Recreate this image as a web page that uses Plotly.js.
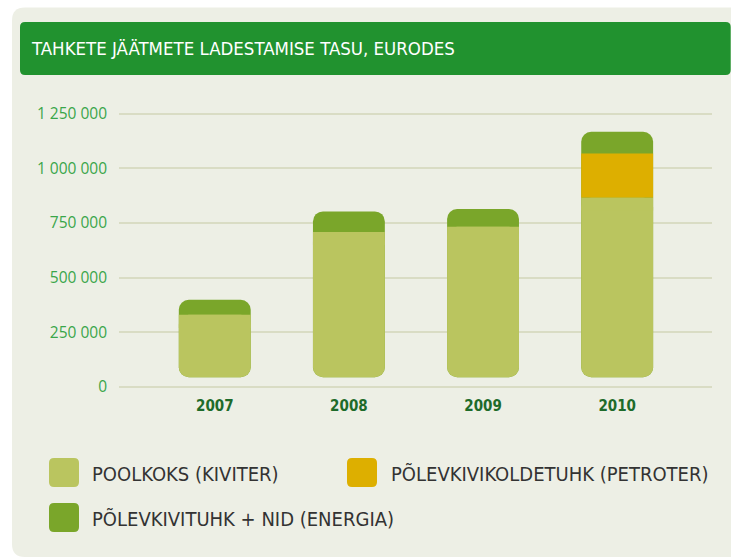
<!DOCTYPE html>
<html>
<head>
<meta charset="utf-8">
<script src="https://cdn.plot.ly/plotly-3.0.1.min.js"></script>
<style>
  html, body { margin: 0; padding: 0; background: #ffffff; }
  #chart { width: 731px; height: 559px; }
</style>
</head>
<body>
<div id="chart"></div>
<script>
// ---- data ----
var years = ['2007', '2008', '2009', '2010'];
var poolkoks = [330000, 709000, 733000, 867000];   // POOLKOKS (KIVITER)
var petroter = [0, 0, 0, 201000];                  // PÕLEVKIVIKOLDETUHK (PETROTER)
var energia  = [69000, 94000, 81000, 99000];       // PÕLEVKIVITUHK + NID (ENERGIA)
var yTickVals = [0, 250000, 500000, 750000, 1000000, 1250000];
var yTickText = ['0', '250 000', '500 000', '750 000', '1 000 000', '1 250 000'];
var titleText = 'TAHKETE JÄÄTMETE LADESTAMISE TASU, EURODES';
var legendNames = ['POOLKOKS (KIVITER)', 'PÕLEVKIVIKOLDETUHK (PETROTER)', 'PÕLEVKIVITUHK + NID (ENERGIA)'];

// ---- style ----
var C_POOL = '#bac55f', C_PET = '#ddaf00', C_EN = '#7aa62a';
var BAR_FLOOR = 45000;    // bars float slightly above the zero line, as in the original design
var CORNER_COVER = 60000; // squares off the inner corners where segments meet
var BAR_W = 0.536;
var NARROW = 'DejaVu Sans Condensed, Liberation Sans Narrow, Arial Narrow, sans-serif';
var W = 731, H = 559, L = 119, R = 19, T = 100, B = 172;
var PW = W - L - R, PH = H - T - B;
function xp(px) { return (px - L) / PW; }
function yp(py) { return (H - B - py) / PH; }
function roundRect(x0, y0, x1, y1, r) {
  var rx = r / PW, ry = r / PH;
  var a = xp(x0), b = xp(x1), top = yp(y0), bot = yp(y1);
  return 'M' + (a + rx) + ',' + top +
    ' L' + (b - rx) + ',' + top +
    ' Q' + b + ',' + top + ' ' + b + ',' + (top - ry) +
    ' L' + b + ',' + (bot + ry) +
    ' Q' + b + ',' + bot + ' ' + (b - rx) + ',' + bot +
    ' L' + (a + rx) + ',' + bot +
    ' Q' + a + ',' + bot + ' ' + a + ',' + (bot + ry) +
    ' L' + a + ',' + (top - ry) +
    ' Q' + a + ',' + top + ' ' + (a + rx) + ',' + top + ' Z';
}

var poolTop = poolkoks.slice();
var petTop = poolkoks.map(function (v, i) { return v + petroter[i]; });
var total = petTop.map(function (v, i) { return v + energia[i]; });
var floors = years.map(function () { return BAR_FLOOR; });

var traces = [
  { // energia: whole rounded column, visible above the other segments
    type: 'bar', x: years, base: floors,
    y: total.map(function (v) { return v - BAR_FLOOR; }),
    name: legendNames[2], width: BAR_W,
    marker: { color: C_EN, cornerradius: 10, line: { width: 0 } }
  },
  { // poolkoks: rounded bottom
    type: 'bar', x: years, base: floors,
    y: poolTop.map(function (v) { return v - BAR_FLOOR; }),
    name: legendNames[0], width: BAR_W,
    marker: { color: C_POOL, cornerradius: 10, line: { width: 0 } }
  },
  { // poolkoks: square top edge
    type: 'bar', x: years, base: poolTop.map(function (v) { return v - CORNER_COVER; }),
    y: poolTop.map(function () { return CORNER_COVER; }),
    name: legendNames[0], width: BAR_W,
    marker: { color: C_POOL, cornerradius: 0, line: { width: 0 } }
  },
  { // petroter
    type: 'bar', x: years, base: poolTop, y: petroter,
    name: legendNames[1], width: BAR_W,
    marker: { color: C_PET, cornerradius: 0, line: { width: 0 } }
  }
];

var legFont = { family: NARROW, size: 20, color: '#333333' };
var shapes = [
  { type: 'path', xref: 'paper', yref: 'paper', layer: 'below',
    path: roundRect(12, 7.5, 760, 557, 13), fillcolor: '#edefe5', line: { width: 0 } },
  { type: 'path', xref: 'paper', yref: 'paper', layer: 'below',
    path: roundRect(20, 22, 730.7, 75, 5), fillcolor: '#21922f', line: { width: 0 } },
  { type: 'path', xref: 'paper', yref: 'paper', path: roundRect(49, 458, 79, 487, 5), fillcolor: C_POOL, line: { width: 0 } },
  { type: 'path', xref: 'paper', yref: 'paper', path: roundRect(347, 458, 377, 487, 5), fillcolor: C_PET, line: { width: 0 } },
  { type: 'path', xref: 'paper', yref: 'paper', path: roundRect(49, 503, 79, 532, 5), fillcolor: C_EN, line: { width: 0 } }
];
var annotations = [
  { xref: 'paper', yref: 'paper', x: xp(90), y: yp(474), xanchor: 'left', yanchor: 'middle', showarrow: false, text: legendNames[0], font: legFont },
  { xref: 'paper', yref: 'paper', x: xp(389), y: yp(474), xanchor: 'left', yanchor: 'middle', showarrow: false, text: legendNames[1], font: legFont },
  { xref: 'paper', yref: 'paper', x: xp(90), y: yp(519), xanchor: 'left', yanchor: 'middle', showarrow: false, text: legendNames[2], font: legFont }
];

var layout = {
  width: W, height: H,
  margin: { l: L, r: R, t: T, b: B, pad: 0 },
  paper_bgcolor: '#ffffff', plot_bgcolor: 'rgba(0,0,0,0)',
  barmode: 'overlay', showlegend: false,
  title: {
    text: titleText, xref: 'container', yref: 'container',
    x: 32 / W, xanchor: 'left', y: 1 - 49 / H, yanchor: 'middle',
    font: { family: NARROW, size: 18.5, color: '#ffffff' }
  },
  xaxis: {
    type: 'category', range: [-0.714, 3.707], showgrid: false, zeroline: false, showline: false,
    ticks: '', ticklabelstandoff: 8,
    tickfont: { family: NARROW, size: 15, color: '#1e6b2a', weight: 'bold' }
  },
  yaxis: {
    range: [0, 1312500], tickvals: yTickVals, ticktext: yTickText,
    showgrid: true, gridcolor: '#d9dcc4', gridwidth: 2,
    zeroline: true, zerolinecolor: '#d9dcc4', zerolinewidth: 2, showline: false,
    ticks: '', ticklabelstandoff: 11,
    tickfont: { family: 'Open Sans, sans-serif', size: 15.5, color: '#3aa64a' }
  },
  shapes: shapes,
  annotations: annotations
};

Plotly.newPlot('chart', traces, layout, { displayModeBar: false, staticPlot: true });
</script>
</body>
</html>
